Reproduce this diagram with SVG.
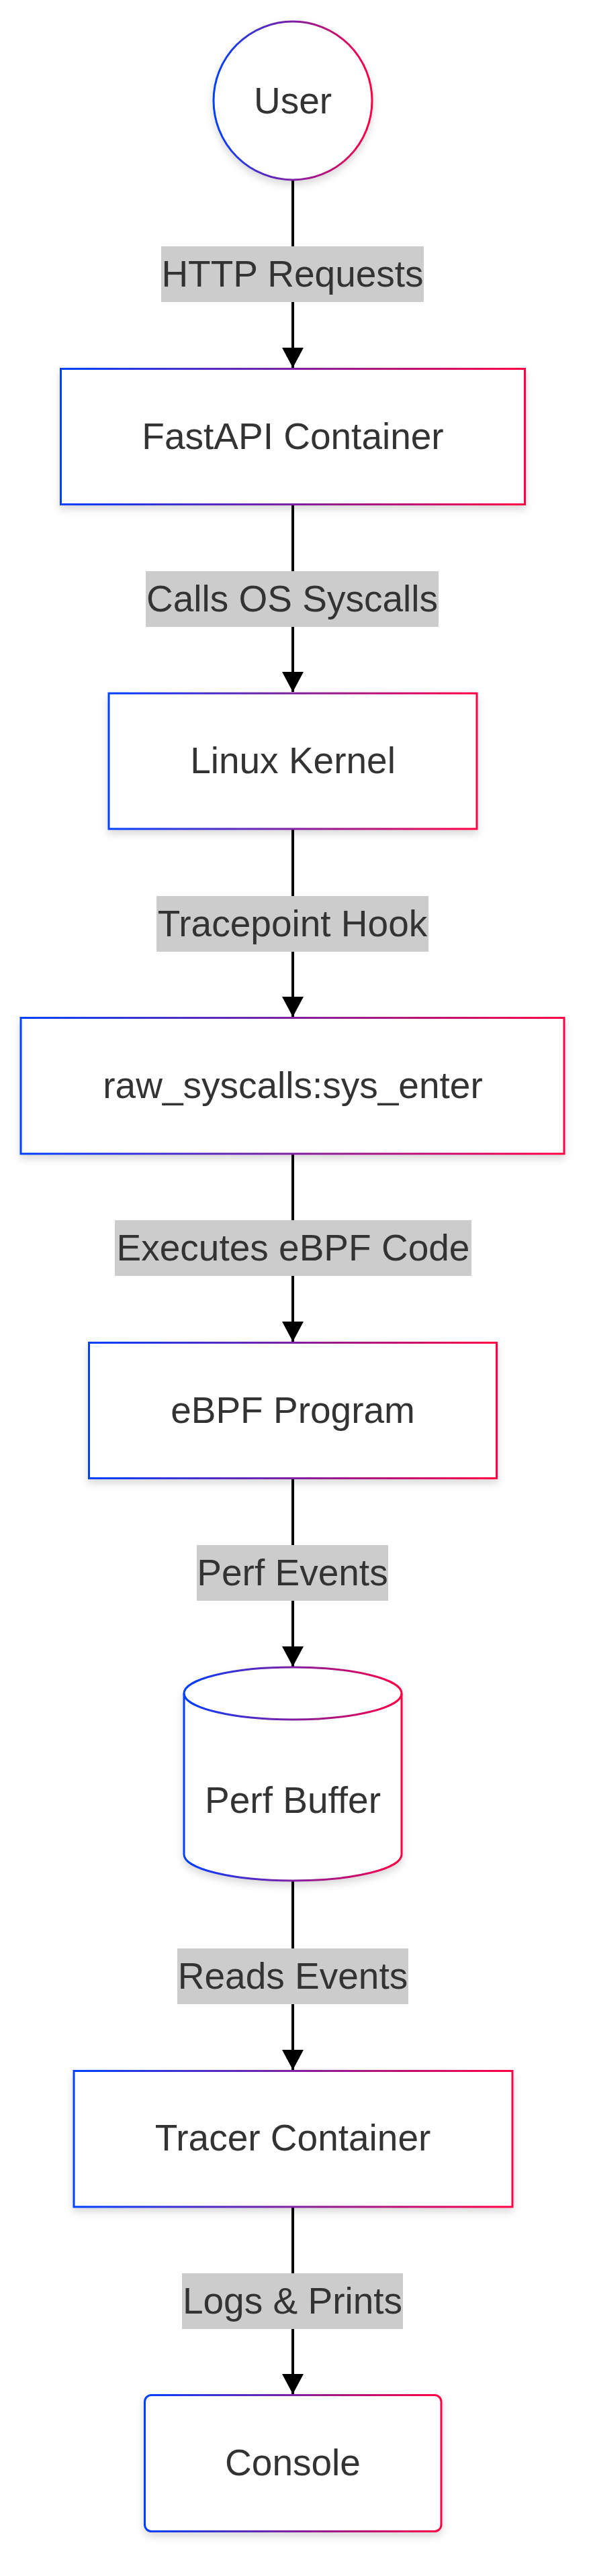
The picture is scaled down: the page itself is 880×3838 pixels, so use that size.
<svg xmlns="http://www.w3.org/2000/svg" width="880" height="3838" viewBox="0 0 880 3838">
<style>
  .node { fill: #ffffff; stroke: url(#grad); stroke-width: 3; filter: url(#shadow); }
  .label { font-family: "Liberation Sans", Arial, sans-serif; font-size: 55px; fill: #333333; text-anchor: middle; }
  .lbg { fill: #cccccc; }
  .edge { stroke: #000000; stroke-width: 4; fill: none; marker-end: url(#arrow); }
</style>
<defs>
  <linearGradient id="grad" x1="0" y1="0" x2="1" y2="0">
    <stop offset="0" stop-color="#0040ff"/>
    <stop offset="1" stop-color="#ff0044"/>
  </linearGradient>
  <filter id="shadow" x="-20%" y="-20%" width="140%" height="150%">
    <feDropShadow dx="0" dy="6" stdDeviation="6" flood-color="#000000" flood-opacity="0.15"/>
  </filter>
  <marker id="arrow" markerWidth="30" markerHeight="32" refX="30" refY="16" orient="auto" markerUnits="userSpaceOnUse" viewBox="0 0 30 32">
    <path d="M0,0 L30,16 L0,32 Z" fill="#000000"/>
  </marker>
</defs>
<rect width="880" height="3838" fill="#ffffff"/>

<g id="connectors">
  <line class="edge" x1="436" y1="268" x2="436" y2="548"/>
  <line class="edge" x1="436" y1="751" x2="436" y2="1031"/>
  <line class="edge" x1="436" y1="1235" x2="436" y2="1515"/>
  <line class="edge" x1="436" y1="1719" x2="436" y2="1999"/>
  <line class="edge" x1="436" y1="2203" x2="436" y2="2483"/>
  <line class="edge" x1="436" y1="2803" x2="436" y2="3084"/>
  <line class="edge" x1="436" y1="3288" x2="436" y2="3567"/>
  <g id="edge-labels">
    <rect class="lbg" x="240" y="367" width="391" height="83"/>
    <text class="label" x="435.5" y="427">HTTP Requests</text>
    <rect class="lbg" x="217" y="851" width="436" height="83"/>
    <text class="label" x="435" y="911">Calls OS Syscalls</text>
    <rect class="lbg" x="233" y="1335" width="405" height="83"/>
    <text class="label" x="435.5" y="1395">Tracepoint Hook</text>
    <rect class="lbg" x="171" y="1818" width="531" height="83"/>
    <text class="label" x="436.5" y="1878">Executes eBPF Code</text>
    <rect class="lbg" x="293" y="2302" width="285" height="83"/>
    <text class="label" x="435.5" y="2362">Perf Events</text>
    <rect class="lbg" x="264" y="2903" width="344" height="83"/>
    <text class="label" x="436" y="2963">Reads Events</text>
    <rect class="lbg" x="271" y="3387" width="329" height="83"/>
    <text class="label" x="435.5" y="3447">Logs &amp; Prints</text>
  </g>
</g>

<g id="user">
  <circle class="node" cx="436" cy="150" r="118"/>
  <text class="label" x="436" y="169">User</text>
</g>

<g id="fastapi">
  <rect class="node" x="90.5" y="549.5" width="691" height="202"/>
  <text class="label" x="436" y="669">FastAPI Container</text>
</g>

<g id="kernel">
  <rect class="node" x="162" y="1033" width="548" height="202"/>
  <text class="label" x="436" y="1152">Linux Kernel</text>
</g>

<g id="tracepoint">
  <rect class="node" x="31" y="1516.5" width="809" height="202.5"/>
  <text class="label" x="436" y="1636">raw_syscalls:sys_enter</text>
</g>

<g id="ebpf">
  <rect class="node" x="132.5" y="2000.5" width="607" height="202"/>
  <text class="label" x="436" y="2120">eBPF Program</text>
</g>

<g id="perfbuffer">
  <path class="node" d="M274,2523 A162,39 0 0,1 598,2523 L598,2763 A162,39 0 0,1 274,2763 Z"/>
  <path d="M274,2523 A162,39 0 0,0 598,2523" fill="none" stroke="url(#grad)" stroke-width="3"/>
  <text class="label" x="436" y="2701">Perf Buffer</text>
</g>

<g id="tracer">
  <rect class="node" x="110" y="3085.5" width="653" height="202.5"/>
  <text class="label" x="436" y="3204">Tracer Container</text>
</g>

<g id="console">
  <rect class="node" x="215.5" y="3568.5" width="441.5" height="203" rx="10" ry="10"/>
  <text class="label" x="436" y="3688">Console</text>
</g>
</svg>
